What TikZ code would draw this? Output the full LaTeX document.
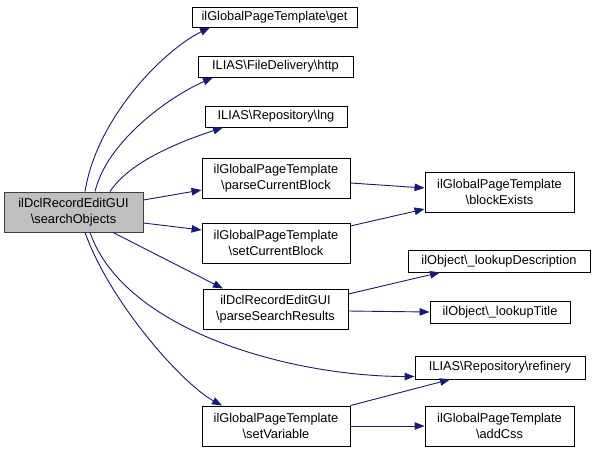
\documentclass[tikz,border=0pt]{standalone}
\usepackage{fontspec}
\setmainfont{Liberation Sans}
\usetikzlibrary{arrows.meta}
\definecolor{edgeblue}{RGB}{25,25,112}
\definecolor{rootfill}{RGB}{191,191,191}
\definecolor{rootline}{RGB}{64,64,64}
\begin{document}
\begin{tikzpicture}[x=1pt,y=-1pt,
  box/.style={draw=black, line width=0.9pt, fill=white, inner sep=0pt, align=center,
    font=\fontsize{12.8}{16}\selectfont},
  rootbox/.style={box, draw=rootline, fill=rootfill},
  link/.style={draw=edgeblue, line width=0.9pt, -{Triangle[length=10pt,width=7.5pt]}}
]
\useasboundingbox (0,0) rectangle (596,453);
% nodes
\node[rootbox, minimum width=139pt, minimum height=40pt] (main) at (73.5,212) {ilDclRecordEditGUI\\\textbackslash searchObjects};
\node[box, minimum width=165pt, minimum height=20pt] (get) at (274.5,17) {ilGlobalPageTemplate\textbackslash get};
\node[box, minimum width=155pt, minimum height=21pt] (http) at (275.5,66.5) {ILIAS\textbackslash FileDelivery\textbackslash http};
\node[box, minimum width=142pt, minimum height=21pt] (lng) at (276,116.5) {ILIAS\textbackslash Repository\textbackslash lng};
\node[box, minimum width=148pt, minimum height=40pt] (pcb) at (276,178) {ilGlobalPageTemplate\\\textbackslash parseCurrentBlock};
\node[box, minimum width=148pt, minimum height=40pt] (scb) at (276,243) {ilGlobalPageTemplate\\\textbackslash setCurrentBlock};
\node[box, minimum width=145pt, minimum height=40pt] (psr) at (275.5,309) {ilDclRecordEditGUI\\\textbackslash parseSearchResults};
\node[box, minimum width=148pt, minimum height=40pt] (setv) at (276,426) {ilGlobalPageTemplate\\\textbackslash setVariable};
\node[box, minimum width=149pt, minimum height=40pt] (bex) at (499.5,192) {ilGlobalPageTemplate\\\textbackslash blockExists};
\node[box, minimum width=182pt, minimum height=22pt] (ldesc) at (499,261) {ilObject\textbackslash \_lookupDescription};
\node[box, minimum width=140pt, minimum height=22pt] (ltitle) at (500,312) {ilObject\textbackslash \_lookupTitle};
\node[box, minimum width=170pt, minimum height=23pt] (refin) at (500,367.5) {ILIAS\textbackslash Repository\textbackslash refinery};
\node[box, minimum width=149pt, minimum height=40pt] (addcss) at (499.5,426) {ilGlobalPageTemplate\\\textbackslash addCss};
% edges from main
\draw[link] ([xshift=11.5pt]main.north) .. controls +(12,-75) and +(-45,22) .. ([xshift=-64.5pt]get.south);
\draw[link] ([xshift=21.5pt]main.north) .. controls +(12,-50) and +(-45,20) .. ([xshift=-62.5pt]http.south);
\draw[link] ([xshift=36.5pt]main.north) .. controls +(20,-30) and +(-45,15) .. ([xshift=-53pt]lng.south);
\draw[link] ([yshift=12pt]main.east) -- ([yshift=-12pt]pcb.west);
\draw[link] ([yshift=-11pt]main.east) -- ([yshift=13pt]scb.west);
\draw[link] ([xshift=39.5pt]main.south) -- ([xshift=-52.5pt]psr.north);
\draw[link] ([xshift=16.5pt]main.south) .. controls +(35,100) and +(-120,0) .. ([yshift=-9pt]refin.west);
\draw[link] ([xshift=11.5pt]main.south) .. controls +(25,70) and +(-40,-22) .. ([xshift=-54pt]setv.north);
% other edges
\draw[link] ([yshift=-5pt]pcb.east) -- ([yshift=4pt]bex.west);
\draw[link] ([yshift=17pt]scb.east) -- ([yshift=-17pt]bex.west);
\draw[link] ([yshift=15pt]psr.east) -- ([xshift=-59pt]ldesc.south);
\draw[link] ([yshift=-2pt]psr.east) -- (ltitle.west);
\draw[link] (setv.north east) -- ([xshift=-50pt]refin.south);
\draw[link] (setv.east) -- (addcss.west);
\end{tikzpicture}
\end{document}
